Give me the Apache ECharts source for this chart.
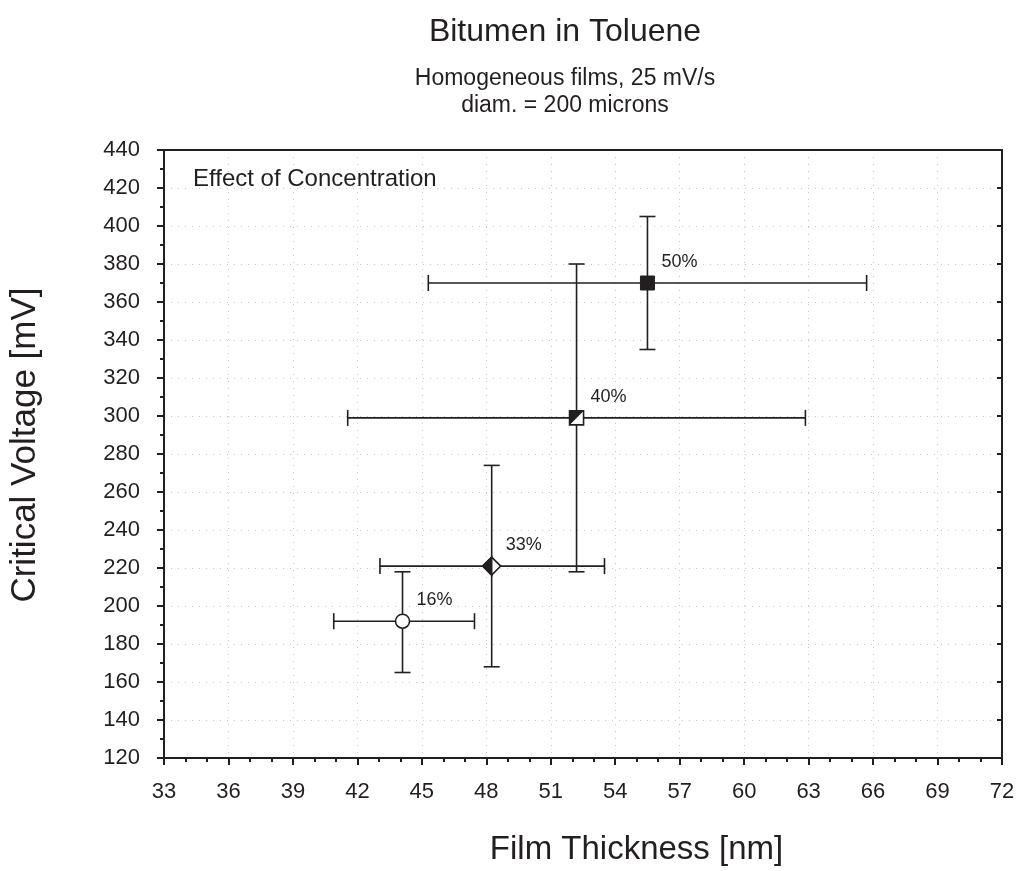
<!DOCTYPE html>
<html>
<head>
<meta charset="utf-8">
<script src="https://cdn.jsdelivr.net/npm/echarts@6/dist/echarts.min.js"></script>
<style>
  html, body { margin: 0; padding: 0; background: #fff; }
  #chart { width: 1018px; height: 871px; }
</style>
</head>
<body>
<div id="chart"></div>
<script>
// Concentration series: film thickness [nm] vs critical voltage [mV] with error ranges
const labels    = ['16%', '33%', '40%', '50%'];
const thickness = [44.1, 48.25, 52.2, 55.5];
const voltage   = [192, 221, 299, 370];
const thickLo   = [40.9, 43.05, 41.55, 45.3];
const thickHi   = [47.45, 53.5, 62.85, 65.7];
const voltLo    = [165, 168, 218, 335];
const voltHi    = [218, 274, 380, 405];
const markers   = ['circle', 'halfDiamond', 'halfSquare', 'square'];

const xTicks = { min: 33, max: 72, step: 3 };
const yTicks = { min: 120, max: 440, step: 20 };

const FONT = '"Liberation Sans", Arial, sans-serif';
const INK = '#231f20';

const seriesData = labels.map((lab, i) => [
  thickness[i], voltage[i], thickLo[i], thickHi[i], voltLo[i], voltHi[i], i
]);

function renderItem(params, api) {
  const i = api.value(6);
  const c = api.coord([api.value(0), api.value(1)]);
  const xl = api.coord([api.value(2), api.value(1)]);
  const xh = api.coord([api.value(3), api.value(1)]);
  const yl = api.coord([api.value(0), api.value(4)]);
  const yh = api.coord([api.value(0), api.value(5)]);
  const cap = 8;
  const ls = { stroke: INK, lineWidth: 1.6 };
  const line = (x1, y1, x2, y2) => ({ type: 'line', shape: { x1, y1, x2, y2 }, style: ls });
  const children = [
    line(xl[0], c[1], xh[0], c[1]),
    line(xl[0], c[1] - cap, xl[0], c[1] + cap),
    line(xh[0], c[1] - cap, xh[0], c[1] + cap),
    line(c[0], yl[1], c[0], yh[1]),
    line(c[0] - cap, yl[1], c[0] + cap, yl[1]),
    line(c[0] - cap, yh[1], c[0] + cap, yh[1])
  ];
  const s = 7;
  const kind = markers[i];
  if (kind === 'circle') {
    children.push({ type: 'circle', shape: { cx: c[0], cy: c[1], r: s },
      style: { fill: '#fff', stroke: INK, lineWidth: 1.6 } });
  } else if (kind === 'square') {
    children.push({ type: 'rect', shape: { x: c[0] - s, y: c[1] - s, width: 2 * s, height: 2 * s },
      style: { fill: INK, stroke: INK, lineWidth: 1 } });
  } else if (kind === 'halfSquare') {
    children.push({ type: 'rect', shape: { x: c[0] - s, y: c[1] - s, width: 2 * s, height: 2 * s },
      style: { fill: '#fff', stroke: INK, lineWidth: 1.6 } });
    children.push({ type: 'polygon', shape: { points: [[c[0] - s, c[1] - s], [c[0] + s, c[1] - s], [c[0] - s, c[1] + s]] },
      style: { fill: INK } });
  } else if (kind === 'halfDiamond') {
    const d = 9;
    children.push({ type: 'polygon', shape: { points: [[c[0], c[1] - d], [c[0] + d, c[1]], [c[0], c[1] + d], [c[0] - d, c[1]]] },
      style: { fill: '#fff', stroke: INK, lineWidth: 1.6 } });
    children.push({ type: 'polygon', shape: { points: [[c[0], c[1] - d], [c[0], c[1] + d], [c[0] - d, c[1]]] },
      style: { fill: INK, stroke: INK, lineWidth: 1.6 } });
  }
  children.push({ type: 'text', x: c[0] + 14, y: c[1] - 21,
    style: { text: labels[i], fill: INK, font: '18px ' + FONT, verticalAlign: 'middle', align: 'left' } });
  return { type: 'group', children };
}

const chart = echarts.init(document.getElementById('chart'), null, { renderer: 'canvas' });
chart.setOption({
  backgroundColor: '#fff',
  animation: false,
  textStyle: { fontFamily: FONT },
  title: [
    { text: 'Bitumen in Toluene', left: 560, top: 11, textAlign: 'center',
      textStyle: { fontFamily: FONT, fontSize: 32, fontWeight: 'normal', color: INK } },
    { text: 'Homogeneous films, 25 mV/s', left: 560, top: 62, textAlign: 'center',
      textStyle: { fontFamily: FONT, fontSize: 23, fontWeight: 'normal', color: INK } },
    { text: 'diam. = 200 microns', left: 560, top: 89, textAlign: 'center',
      textStyle: { fontFamily: FONT, fontSize: 23, fontWeight: 'normal', color: INK } },
    { text: 'Effect of Concentration', left: 188, top: 162,
      textStyle: { fontFamily: FONT, fontSize: 24, fontWeight: 'normal', color: INK } }
  ],
  grid: { left: 158, right: 16, top: 150, bottom: 112, containLabel: false },
  xAxis: [
    {
      type: 'value', min: xTicks.min, max: xTicks.max, interval: xTicks.step,
      name: 'Film Thickness [nm]', nameLocation: 'middle', nameGap: 75,
      nameTextStyle: { fontFamily: FONT, fontSize: 33, color: INK, padding: [0, 0, 0, 107] },
      axisLine: { show: true, lineStyle: { color: INK, width: 2 } },
      axisTick: { show: true, inside: false, length: 7, lineStyle: { color: INK, width: 2 } },
      minorTick: { show: true, splitNumber: 3, length: 4, lineStyle: { color: INK, width: 2 } },
      axisLabel: { fontFamily: FONT, fontSize: 22, color: INK, margin: 23 },
      splitLine: { show: true, lineStyle: { color: '#c8c8c8', type: [1, 6], width: 1 } }
    },
    {
      type: 'value', position: 'top', min: xTicks.min, max: xTicks.max, interval: xTicks.step,
      axisLine: { show: true, onZero: false, lineStyle: { color: INK, width: 2 } },
      axisTick: { show: false }, axisLabel: { show: false }, splitLine: { show: false }
    }
  ],
  yAxis: [
    {
      type: 'value', min: yTicks.min, max: yTicks.max, interval: yTicks.step,
      name: 'Critical Voltage [mV]', nameLocation: 'middle', nameGap: 121, nameRotate: 90,
      nameTextStyle: { fontFamily: FONT, fontSize: 35, color: INK, padding: [0, 0, 0, 18] },
      axisLine: { show: true, lineStyle: { color: INK, width: 2 } },
      axisTick: { show: true, inside: false, length: 7, lineStyle: { color: INK, width: 2 } },
      minorTick: { show: true, splitNumber: 2, length: 4, lineStyle: { color: INK, width: 2 } },
      axisLabel: { fontFamily: FONT, fontSize: 22, color: INK, margin: 24 },
      splitLine: { show: true, lineStyle: { color: '#c8c8c8', type: [1, 6], width: 1 } }
    },
    {
      type: 'value', position: 'right', min: yTicks.min, max: yTicks.max, interval: yTicks.step,
      axisLine: { show: true, onZero: false, lineStyle: { color: INK, width: 2 } },
      axisTick: { show: true, inside: true, length: 5, lineStyle: { color: INK, width: 2 } },
      axisLabel: { show: false }, splitLine: { show: false }
    }
  ],
  series: [{
    type: 'custom',
    xAxisIndex: 0, yAxisIndex: 0,
    renderItem: renderItem,
    encode: { x: [0, 2, 3], y: [1, 4, 5] },
    data: seriesData,
    clip: false
  }]
});
</script>
</body>
</html>
